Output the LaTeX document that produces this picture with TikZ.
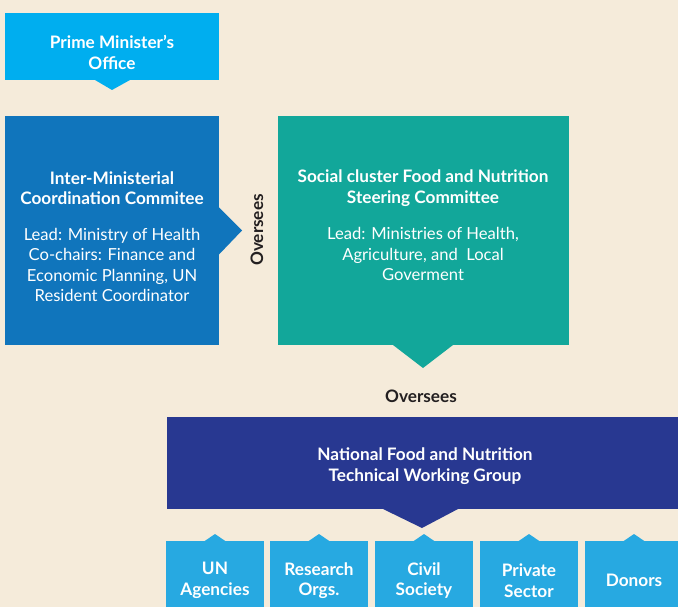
\documentclass[tikz,border=0pt]{standalone}
\usepackage{fontspec}
\setmainfont{Lato}
\usetikzlibrary{calc}
\definecolor{bgc}{HTML}{F5EBDA}
\definecolor{pmc}{HTML}{00AEEF}
\definecolor{imc}{HTML}{1075BC}
\definecolor{scc}{HTML}{12A79A}
\definecolor{nfc}{HTML}{283891}
\definecolor{lbc}{HTML}{27A9E1}
\definecolor{txc}{HTML}{231F20}
\tikzset{
  boxshape/.style={rectangle, inner sep=0pt, outer sep=0pt, anchor=north west},
  head/.style={text=white, font=\fontsize{17.2}{20.5}\selectfont\bfseries, align=center, inner sep=0pt},
  body/.style={text=white, font=\fontsize{16.6}{20.5}\selectfont, align=center, inner sep=0pt},
  over/.style={text=txc, font=\fontsize{17.2}{18}\selectfont\bfseries, inner sep=0pt},
  smallbox/.style={boxshape, fill=lbc, minimum width=98pt, minimum height=70pt},
}
\begin{document}
\begin{tikzpicture}[x=1pt,y=-1pt]
\fill[bgc] (0,0) rectangle (678,607);
\useasboundingbox (0,0) rectangle (678,607);

% Prime Minister's Office
\node[boxshape, fill=pmc, minimum width=214pt, minimum height=67pt] (pm) at (5,13) {};
\fill[pmc] ($(pm.south)+(-17,0)$) -- ($(pm.south)+(0,10)$) -- ($(pm.south)+(18,0)$) -- cycle;
\node[head] (pmT) at (112,52.5) {Prime Minister’s\\Office};

% Inter-Ministerial
\node[boxshape, fill=imc, minimum width=214pt, minimum height=229pt] (im) at (5,116) {};
\fill[imc] ($(im.east)+(0,-23)$) -- ($(im.east)+(23,0)$) -- ($(im.east)+(0,24)$) -- cycle;
\node[head] (imH) at (112,188) {Inter-Ministerial\\Coordination Commitee};
\node[body] (imB) at (112,265) {Lead: Ministry of Health\\Co-chairs: Finance and\\Economic Planning, UN\\Resident Coordinator};

% Oversees (vertical)
\node[over, rotate=90] (ov1) at (257,230) {Oversees};

% Social cluster
\node[boxshape, fill=scc, minimum width=291pt, minimum height=229pt] (sc) at (278,116) {};
\fill[scc] (393,345) -- (423,368) -- (453,345) -- cycle;
\node[head] (scH) at (423,188) {Social cluster Food and Nutrition\\Steering Committee};
\node[body] (scB) at (423,254) {Lead: Ministries of Health,\\Agriculture, and\ \ Local\\Goverment};

% Oversees (horizontal)
\node[over] (ov2) at (421,396) {Oversees};

% National TWG
\node[boxshape, fill=nfc, minimum width=520pt, minimum height=92pt] (nf) at (167,417) {};
\fill[nfc] (383,509) -- (422,528) -- (458,509) -- cycle;
\node[head] (nfH) at (425,466) {National Food and Nutrition\\Technical Working Group};

% Bottom boxes
\node[smallbox] (b1) at (166,541) {};
\node[smallbox] (b2) at (270,541) {};
\node[smallbox] (b3) at (375,541) {};
\node[smallbox] (b4) at (480,541) {};
\node[smallbox] (b5) at (585,541) {};
\foreach \b in {b1,b2,b3,b4,b5}{
  \fill[lbc] ($(\b.north)+(-11,0.5)$) -- ($(\b.north)+(0,-7)$) -- ($(\b.north)+(11,0.5)$) -- cycle;
}
\node[head] (b1T) at (215,580.5) {UN\\Agencies};
\node[head] (b2T) at (319,580.5) {Research\\Orgs.};
\node[head] (b3T) at (424,580.5) {Civil\\Society};
\node[head] (b4T) at (529,580.5) {Private\\Sector};
\node[head] (b5T) at (634,580) {Donors};
\end{tikzpicture}
\end{document}
